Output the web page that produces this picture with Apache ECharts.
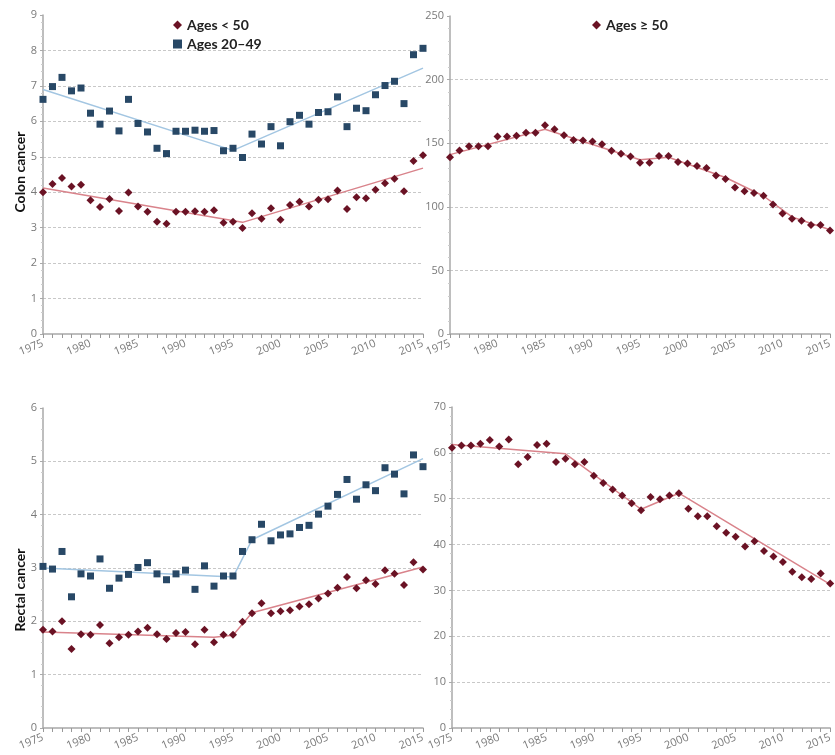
<!DOCTYPE html>
<html>
<head>
<meta charset="utf-8">
<script src="https://cdn.jsdelivr.net/npm/echarts@6/dist/echarts.min.js"></script>
<style>
html,body{margin:0;padding:0;background:#fff;}
#c{width:835px;height:755px;}
</style>
</head>
<body>
<div id="c"></div>
<script>
const years = [1975,1976,1977,1978,1979,1980,1981,1982,1983,1984,1985,1986,1987,1988,1989,1990,1991,1992,1993,1994,1995,1996,1997,1998,1999,2000,2001,2002,2003,2004,2005,2006,2007,2008,2009,2010,2011,2012,2013,2014,2015];

const colonUnder50 = [4.00,4.23,4.40,4.16,4.21,3.77,3.58,3.81,3.47,3.99,3.60,3.45,3.17,3.11,3.45,3.45,3.46,3.45,3.49,3.14,3.17,2.99,3.41,3.25,3.55,3.22,3.64,3.73,3.60,3.79,3.80,4.05,3.53,3.86,3.83,4.07,4.25,4.38,4.03,4.88,5.04];
const colon20to49 = [6.62,6.98,7.24,6.86,6.94,6.23,5.92,6.29,5.73,6.62,5.94,5.70,5.24,5.09,5.72,5.72,5.75,5.72,5.74,5.17,5.24,4.98,5.64,5.36,5.85,5.31,5.99,6.17,5.92,6.25,6.27,6.69,5.85,6.37,6.30,6.75,7.01,7.13,6.50,7.88,8.06];
const colon50plus = [139,144.2,147.6,147.6,147.6,155.3,155.3,155.8,158.2,158.2,164.2,161,156.3,152.6,152.1,151.3,149.2,144,141.8,139.5,134.7,134.7,140,140,135.3,134,132.1,130.5,124.7,121.8,115.1,112.2,110.9,108.6,101.8,94.8,90.6,89.1,85.7,85.7,81.3];
const rectalUnder50 = [1.84,1.81,2.00,1.48,1.76,1.75,1.93,1.59,1.70,1.75,1.81,1.88,1.76,1.67,1.78,1.80,1.57,1.84,1.61,1.75,1.75,1.99,2.15,2.34,2.15,2.19,2.21,2.28,2.32,2.43,2.52,2.63,2.83,2.62,2.77,2.70,2.96,2.89,2.68,3.11,2.97];
const rectal20to49 = [3.03,2.98,3.31,2.46,2.89,2.85,3.17,2.62,2.81,2.88,3.01,3.10,2.89,2.78,2.89,2.96,2.60,3.04,2.66,2.85,2.85,3.31,3.53,3.82,3.51,3.62,3.64,3.76,3.80,4.01,4.16,4.38,4.66,4.29,4.56,4.45,4.88,4.76,4.39,5.12,4.90];
const rectal50plus = [61.1,61.6,61.6,62.0,62.8,61.4,62.9,57.5,59.1,61.7,62.0,58.0,58.7,57.5,58.0,55.0,53.4,52.0,50.7,49.0,47.5,50.4,49.9,50.7,51.2,47.8,46.2,46.2,44.0,42.6,41.7,39.6,40.7,38.6,37.4,36.2,34.1,32.9,32.5,33.7,31.5];

// fitted trend lines (joinpoint years and values)
const trendColonUnder50Years = [1975,1996,2015];
const trendColonUnder50Vals = [4.12,3.15,4.68];
const trendColon20to49Years = [1975,1995,2015];
const trendColon20to49Vals = [6.90,5.18,7.50];
const trendColon50plusYears = [1975,1985,1995,1998,2004,2008,2011,2015];
const trendColon50plusVals = [141,161,137,139,123,108.5,92,82];
const trendRectalUnder50Years = [1975,1993,1995,1997,2015];
const trendRectalUnder50Vals = [1.80,1.70,1.74,2.16,3.02];
const trendRectal20to49Years = [1975,1995,1997,2015];
const trendRectal20to49Vals = [3.00,2.83,3.53,5.05];
const trendRectal50plusYears = [1975,1987,1995,1999,2015];
const trendRectal50plusVals = [61.8,59.8,47.7,51.2,31.3];

const yTicksColonYoung = [0,9,1];
const yTicksColonOld = [0,250,50];
const yTicksRectalYoung = [0,6,1];
const yTicksRectalOld = [0,70,10];

const RED = '#6a1224', BLUE = '#284866', RED_LINE = '#d9838b', BLUE_LINE = '#a3c6e2';
const pairs = (xs, ys) => xs.map((x, i) => [x, ys[i]]);

const grids = [
  {left:43, top:15, width:380, height:319},
  {left:450, top:16, width:380, height:318},
  {left:43, top:408, width:380, height:320},
  {left:452, top:407, width:380, height:321}
];

function xAxis(i){
  return {
    type:'value', gridIndex:i, min:1975, max:2015, interval:5,
    axisLine:{show:true, onZero:false, lineStyle:{color:'#a8a8a8', width:1.5}},
    axisTick:{show:true, length:4, lineStyle:{color:'#999'}},
    minorTick:{show:true, splitNumber:5, length:4, lineStyle:{color:'#999'}},
    splitLine:{show:false},
    axisLabel:{rotate:22, color:'#7a7a7a', fontSize:11, fontFamily:'Open Sans', margin:9, formatter:v=>String(v)}
  };
}
function yAxis(i, t){
  return {
    type:'value', gridIndex:i, min:t[0], max:t[1], interval:t[2],
    axisLine:{show:true, lineStyle:{color:'#a8a8a8', width:1.5}},
    axisTick:{show:true, length:3, lineStyle:{color:'#aaa'}},
    minorTick:{show:true, splitNumber:5, length:2, lineStyle:{color:'#ccc'}},
    splitLine:{show:true, showMinLine:false, showMaxLine:false, lineStyle:{color:'#c8c8c8', type:[3,2], width:1.2}},
    axisLabel:{color:'#7a7a7a', fontSize:11, fontFamily:'Open Sans', margin:6}
  };
}
function scatter(name, i, vals, sym, color, size){
  return {name, type:'scatter', xAxisIndex:i, yAxisIndex:i, data:pairs(years, vals),
    symbol:sym, symbolSize:size, itemStyle:{color, opacity:1}, z:4};
}
function trend(name, i, xs, ys, color){
  return {name, type:'line', xAxisIndex:i, yAxisIndex:i, data:pairs(xs, ys),
    symbol:'none', lineStyle:{color, width:1.5}, z:2, silent:true};
}

const option = {
  animation:false,
  backgroundColor:'#fff',
  grid: grids,
  xAxis: [0,1,2,3].map(xAxis),
  yAxis: [yAxis(0,yTicksColonYoung), yAxis(1,yTicksColonOld), yAxis(2,yTicksRectalYoung), yAxis(3,yTicksRectalOld)],
  legend: [
    {left:168, top:13, orient:'vertical', itemGap:5, itemWidth:9, itemHeight:9,
     textStyle:{fontFamily:'Lato', fontWeight:'bold', fontSize:14, color:'#222'},
     data:[{name:'Ages < 50', icon:'diamond'},{name:'Ages 20–49', icon:'rect'}], selectedMode:false},
    {left:587, top:13, orient:'vertical', itemWidth:9, itemHeight:9,
     textStyle:{fontFamily:'Lato', fontWeight:'bold', fontSize:14, color:'#222'},
     data:[{name:'Ages ≥ 50', icon:'diamond'}], selectedMode:false}
  ],
  graphic: [
    {type:'text', x:20, y:172, rotation:Math.PI/2, style:{text:'Colon cancer', font:'bold 14px Lato', fill:'#111', textAlign:'center', textVerticalAlign:'middle'}},
    {type:'text', x:20, y:590, rotation:Math.PI/2, style:{text:'Rectal cancer', font:'bold 14px Lato', fill:'#111', textAlign:'center', textVerticalAlign:'middle'}}
  ],
  series: [
    trend('t1', 0, trendColonUnder50Years, trendColonUnder50Vals, RED_LINE),
    trend('t2', 0, trendColon20to49Years, trendColon20to49Vals, BLUE_LINE),
    trend('t3', 1, trendColon50plusYears, trendColon50plusVals, RED_LINE),
    trend('t4', 2, trendRectalUnder50Years, trendRectalUnder50Vals, RED_LINE),
    trend('t5', 2, trendRectal20to49Years, trendRectal20to49Vals, BLUE_LINE),
    trend('t6', 3, trendRectal50plusYears, trendRectal50plusVals, RED_LINE),
    scatter('Ages < 50', 0, colonUnder50, 'diamond', RED, 8),
    scatter('Ages 20–49', 0, colon20to49, 'rect', BLUE, 7),
    scatter('Ages ≥ 50', 1, colon50plus, 'diamond', RED, 8),
    scatter('Ages < 50', 2, rectalUnder50, 'diamond', RED, 8),
    scatter('Ages 20–49', 2, rectal20to49, 'rect', BLUE, 7),
    scatter('Ages ≥ 50', 3, rectal50plus, 'diamond', RED, 8)
  ]
};
const chart = echarts.init(document.getElementById('c'), null, {renderer:'canvas'});
chart.setOption(option);
</script>
</body>
</html>
